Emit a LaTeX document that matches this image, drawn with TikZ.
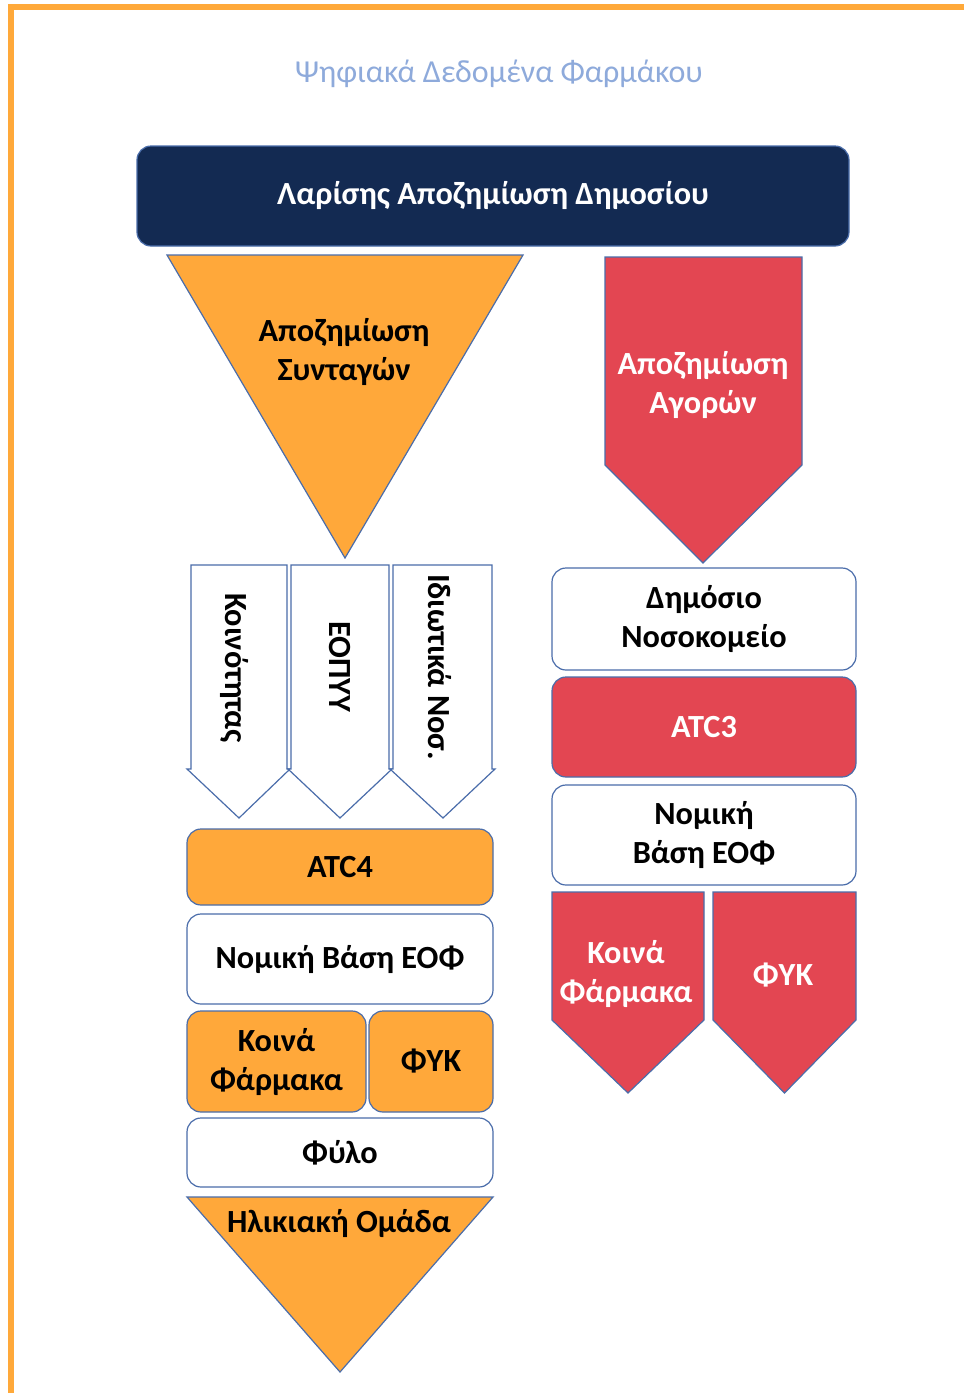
\documentclass[tikz,border=0pt]{standalone}
\usepackage{fontspec}
\setmainfont{Carlito}
\definecolor{frameorange}{HTML}{FFA93A}
\definecolor{tileorange}{HTML}{FFA83A}
\definecolor{tilered}{HTML}{E34652}
\definecolor{navy}{HTML}{132A52}
\definecolor{titleblue}{HTML}{8EAADB}
\definecolor{edge}{HTML}{4A6DAA}
\begin{document}
\begin{tikzpicture}[x=1pt,y=-1pt,
  txt/.style={font=\fontsize{32.3}{39}\selectfont\bfseries, align=center, inner sep=0pt},
  tile/.style={draw=edge, line width=1.2pt, rounded corners=14pt, inner sep=0pt,
               txt, minimum width=#1},
  whitetile/.style={tile=#1, fill=white, text=black},
  orangetile/.style={tile=#1, fill=tileorange, text=black},
  redtile/.style={tile=#1, fill=tilered, text=white},
  outlined/.style={draw=edge, line width=1.2pt, line join=miter},
]
\useasboundingbox (0,0) rectangle (964,1393);
\fill[white] (0,0) rectangle (964,1393);

% frame: top and left edges only
\draw[frameorange, line width=6pt] (10.5,7) -- (964,7);
\draw[frameorange, line width=6pt] (10.5,4) -- (10.5,1393);

% title
\node[font=\fontsize{32}{36}\selectfont, text=titleblue, inner sep=0pt] (title) at (499,74) {Ψηφιακά Δεδομένα Φαρμάκου};

% header bar
\node[tile=712pt, fill=navy, text=white, minimum height=100pt] (head) at (493,196) {Λαρίσης Αποζημίωση Δημοσίου};

% ---------- left branch ----------
\path[outlined, fill=tileorange] (167,255) -- (523,255) -- (345,558) -- cycle;
\node[txt] (presc) at (344,352) {Αποζημίωση\\Συνταγών};

% three down arrows with vertical labels
\path[outlined, fill=white] (191,565) -- (287,565) -- (287,769) -- (290,769) -- (239,818) -- (187,769) -- (191,769) -- cycle;
\path[outlined, fill=white] (291,565) -- (389,565) -- (389,769) -- (392,769) -- (340,818) -- (288,769) -- (291,769) -- cycle;
\path[outlined, fill=white] (393,565) -- (492,565) -- (492,769) -- (495,769) -- (443,818) -- (390,769) -- (393,769) -- cycle;
\node[txt, rotate=-90] (comm) at (234,668) {Κοινότητας};
\node[txt, rotate=-90] (eopyy) at (340,667) {ΕΟΠΥΥ};
\node[txt, rotate=-90] (priv) at (440,667) {Ιδιωτικά Νοσ.};

\node[orangetile=306pt, minimum height=76pt] (atc4) at (340,867) {ATC4};
\node[whitetile=306pt, minimum height=90pt] (lawL) at (340,959) {Νομική Βάση ΕΟΦ};
\node[orangetile=179pt, minimum height=101pt] (genL) at (276.5,1061.5) {Κοινά\\Φάρμακα};
\node[orangetile=124pt, minimum height=101pt] (otcL) at (431,1061.5) {ΦΥΚ};
\node[whitetile=306pt, minimum height=69pt] (sex) at (340,1152.5) {Φύλο};

\path[outlined, fill=tileorange] (187,1197) -- (493,1197) -- (340,1372) -- cycle;
\node[txt] (age) at (339,1223) {Ηλικιακή Ομάδα};

% ---------- right branch ----------
\path[outlined, fill=tilered] (605,257) -- (802,257) -- (802,465) -- (703,563) -- (605,465) -- cycle;
\node[txt, text=white] (purch) at (703,385) {Αποζημίωση\\Αγορών};

\node[whitetile=304pt, minimum height=102pt] (hosp) at (704,619) {Δημόσιο\\Νοσοκομείο};
\node[redtile=304pt, minimum height=100pt] (atc3) at (704,727) {ATC3};
\node[whitetile=304pt, minimum height=100pt] (lawR) at (704,835) {Νομική\\Βάση ΕΟΦ};

\path[outlined, fill=tilered] (552,892) -- (704,892) -- (704,1020) -- (628,1093) -- (552,1020) -- cycle;
\path[outlined, fill=tilered] (713,892) -- (856,892) -- (856,1020) -- (784.5,1093) -- (713,1020) -- cycle;
\node[txt, text=white] (genR) at (626,974) {Κοινά\\Φάρμακα};
\node[txt, text=white] (otcR) at (783,975) {ΦΥΚ};
\end{tikzpicture}
\end{document}
